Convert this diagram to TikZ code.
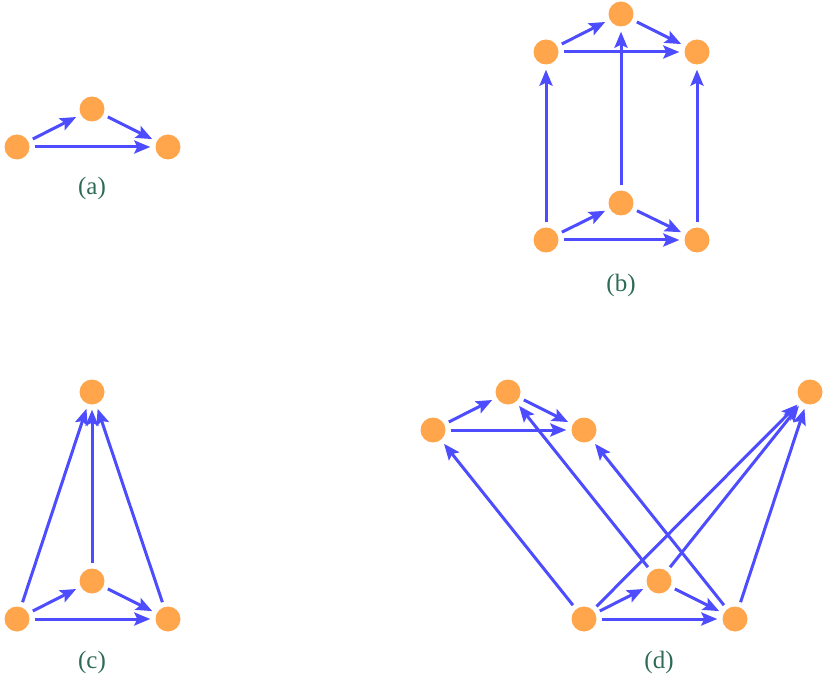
\documentclass[tikz,border=0pt]{standalone}
\usepackage{fontspec}
\setmainfont{Liberation Serif}
\usetikzlibrary{arrows.meta}
\definecolor{nodeor}{HTML}{FFA64D}
\definecolor{edgeb}{HTML}{4D4DFF}
\definecolor{labg}{HTML}{2E6B55}
\tikzset{
  vtx/.style={circle,fill=nodeor,draw=none,minimum size=25pt,inner sep=0pt},
  edg/.style={draw=edgeb,line width=3pt,-{Stealth[length=16pt,width=13pt,inset=3pt]},shorten >=5pt,shorten <=5pt},
  lab/.style={text=labg,font=\fontsize{25}{28}\selectfont}
}
\begin{document}
\begin{tikzpicture}[x=1pt,y=-1pt]
\useasboundingbox (0,0) rectangle (825,679);
% (a)
\node[vtx] (a1) at (17,147) {};
\node[vtx] (a2) at (92,109) {};
\node[vtx] (a3) at (168,147) {};
\node[lab] (la) at (92,188) {(a)};
\draw[edg] (a1) -- (a2);
\draw[edg] (a2) -- (a3);
\draw[edg] (a1) -- (a3);
% (b)
\node[vtx] (b1) at (546,52) {};
\node[vtx] (b2) at (621,14) {};
\node[vtx] (b3) at (697,52) {};
\node[vtx] (b4) at (546,240) {};
\node[vtx] (b5) at (621,203) {};
\node[vtx] (b6) at (697,240) {};
\node[lab] (lb) at (621,285) {(b)};
\draw[edg] (b1) -- (b2);
\draw[edg] (b2) -- (b3);
\draw[edg] (b1) -- (b3);
\draw[edg] (b4) -- (b5);
\draw[edg] (b5) -- (b6);
\draw[edg] (b4) -- (b6);
\draw[edg] (b4) -- (b1);
\draw[edg] (b5) -- (b2);
\draw[edg] (b6) -- (b3);
% (c)
\node[vtx] (c1) at (17,619) {};
\node[vtx] (c2) at (92,581) {};
\node[vtx] (c3) at (168,619) {};
\node[vtx] (c4) at (92,392) {};
\node[lab] (lc) at (92,662) {(c)};
\draw[edg] (c1) -- (c2);
\draw[edg] (c2) -- (c3);
\draw[edg] (c1) -- (c3);
\draw[edg] (c1) -- (c4);
\draw[edg] (c2) -- (c4);
\draw[edg] (c3) -- (c4);
% (d)
\node[vtx] (d1) at (433,430) {};
\node[vtx] (d2) at (508,392) {};
\node[vtx] (d3) at (584,430) {};
\node[vtx] (d4) at (584,619) {};
\node[vtx] (d5) at (659,581) {};
\node[vtx] (d6) at (735,619) {};
\node[vtx] (d7) at (810,392) {};
\node[lab] (ld) at (659,662) {(d)};
\draw[edg] (d1) -- (d2);
\draw[edg] (d2) -- (d3);
\draw[edg] (d1) -- (d3);
\draw[edg] (d4) -- (d5);
\draw[edg] (d5) -- (d6);
\draw[edg] (d4) -- (d6);
\draw[edg] (d4) -- (d1);
\draw[edg] (d5) -- (d2);
\draw[edg] (d6) -- (d3);
\draw[edg] (d4) -- (d7);
\draw[edg] (d5) -- (d7);
\draw[edg] (d6) -- (d7);
\end{tikzpicture}
\end{document}
